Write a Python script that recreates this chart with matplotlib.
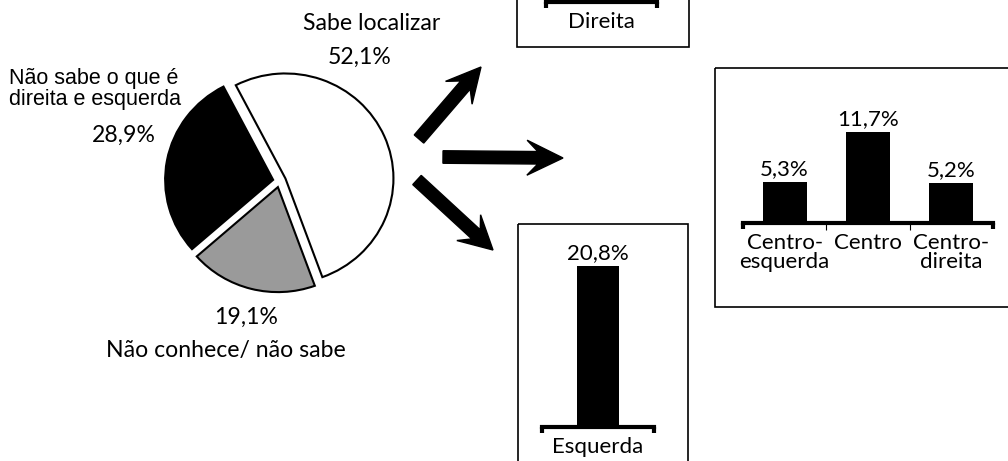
import matplotlib
matplotlib.use("Agg")
import matplotlib.pyplot as plt
from matplotlib.patches import Rectangle, FancyArrow
from matplotlib.ticker import FixedLocator

# ── Data ──
pie_labels = ["Sabe localizar", "Não sabe o que é\ndireita e esquerda", "Não conhece/ não sabe"]
pie_values = [52.1, 28.9, 19.1]
pie_colors = ["white", "black", "#9a9a9a"]

centro_cats = ["Centro-\nesquerda", "Centro", "Centro-\ndireita"]
centro_vals = [5.3, 11.7, 5.2]
esquerda_cats = ["Esquerda"]
esquerda_vals = [20.8]
direita_cats = ["Direita"]
direita_vals = [9.1]  # bar lies outside the cropped picture

W, H = 1008, 461
SCALE = 7.75          # pixels per percentage point
FONT = "Lato"
PIE_FS = 16.6
BAR_FS = 16

fig = plt.figure(figsize=(W / 100, H / 100), dpi=100)

# ── overlay in pixel coordinates (y from top) for boxes, arrows, texts ──
ov = fig.add_axes([0, 0, 1, 1], facecolor="none")
ov.set_xlim(0, W)
ov.set_ylim(H, 0)
ov.axis("off")


def box(x0, y0, x1, y1):
    ov.add_patch(Rectangle((x0, y0), x1 - x0, y1 - y0, fill=False,
                           edgecolor="black", linewidth=1.2, clip_on=False))


box(517, -10, 689, 47)     # Direita
box(715, 68, 1020, 307)    # centro
box(518, 224, 688, 480)    # Esquerda

for (x0, y0, x1, y1, hl) in [(419, 139, 481, 67, 34),
                             (443, 157, 563, 158, 36),
                             (417, 180, 493, 250, 33)]:
    ov.add_patch(FancyArrow(x0, y0, x1 - x0, y1 - y0, width=12.5,
                            head_width=35, head_length=hl, overhang=0.3,
                            length_includes_head=True, color="black"))

# ── pie ──
RH, RV = 108, 105
cx, cy = 279.5, 181
pax = fig.add_axes([(cx - 1.3 * RH) / W, (H - cy - 1.3 * RV) / H,
                    2.6 * RH / W, 2.6 * RV / H])
pax.pie(pie_values, colors=pie_colors, startangle=-70, counterclock=True,
        explode=[0.06] * 3,
        wedgeprops=dict(edgecolor="black", linewidth=1.5))
pax.set_aspect("auto")
pax.set_xlim(-1.3, 1.3)
pax.set_ylim(-1.3, 1.3)
pax.axis("off")

ov.text(372, 23, pie_labels[0], ha="center", va="center", fontsize=PIE_FS, family=FONT)
ov.text(360, 57, "52,1%", ha="center", va="center", fontsize=PIE_FS, family=FONT)
ov.text(9, 89, pie_labels[1], ha="left", va="center", fontsize=15.5,
        family="Liberation Sans", linespacing=1.05)
ov.text(124, 135, "28,9%", ha="center", va="center", fontsize=PIE_FS, family=FONT)
ov.text(246, 317, "19,1%", ha="center", va="center", fontsize=PIE_FS, family=FONT)
ov.text(226, 350, pie_labels[2], ha="center", va="center", fontsize=PIE_FS, family=FONT)


# ── bar panels ──
def bar_panel(x0, x1, base, top, cats, vals, bw, show_values=True):
    n = len(cats)
    ax = fig.add_axes([x0 / W, (H - base) / H, (x1 - x0) / W, (base - top) / H],
                      facecolor="none")
    xs = [i + 0.5 for i in range(n)]
    ax.bar(xs, vals, width=bw, color="black")
    ax.set_xlim(0, n)
    ax.set_ylim(0, (base - top) / SCALE)
    for s in ["top", "left", "right"]:
        ax.spines[s].set_visible(False)
    ax.spines["bottom"].set_linewidth(3)
    ax.set_yticks([])
    ax.xaxis.set_major_locator(FixedLocator([0, n]))
    ax.xaxis.set_minor_locator(FixedLocator(list(range(1, n))))
    ax.tick_params(axis="x", which="major", direction="out", length=4.5,
                   width=3, labelbottom=False)
    ax.tick_params(axis="x", which="minor", direction="out", length=5,
                   width=0.8, labelbottom=False)
    for x, v, c in zip(xs, vals, cats):
        if show_values:
            ax.annotate(f"{v:.1f}%".replace(".", ","), xy=(x, v),
                        xytext=(0, 2), textcoords="offset points",
                        ha="center", va="bottom", fontsize=BAR_FS, family=FONT)
        ax.annotate(c, xy=(x, 0), xycoords=("data", "axes fraction"),
                    xytext=(0, -7), textcoords="offset points",
                    ha="center", va="top", fontsize=BAR_FS, family=FONT,
                    linespacing=0.95)
    return ax


bar_panel(743, 993, 223, 80, centro_cats, centro_vals, 0.53)
bar_panel(542, 654, 427, 240, esquerda_cats, esquerda_vals, 0.38)
bar_panel(546, 657, 2, -120, direita_cats, direita_vals, 0.38, show_values=False)

fig.savefig("out.png", dpi=100)
